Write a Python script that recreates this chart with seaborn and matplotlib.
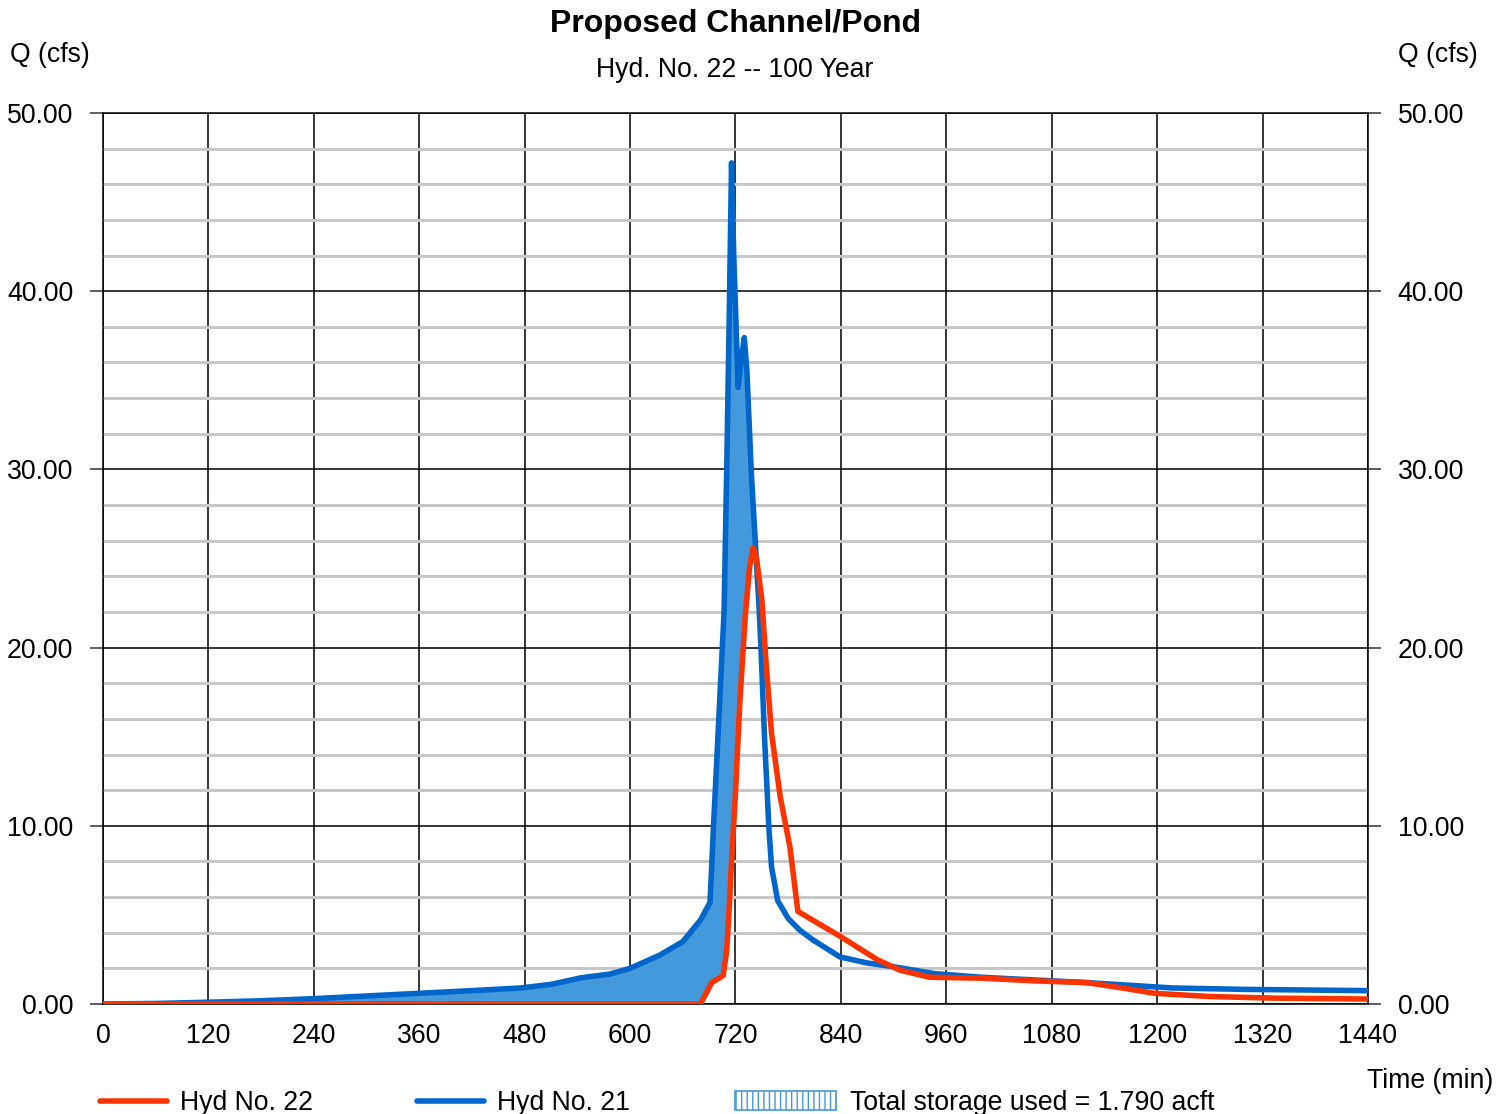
import numpy as np
import pandas as pd
import seaborn as sns
import matplotlib.pyplot as plt
from matplotlib.lines import Line2D
from matplotlib.patches import Patch

# Hyd No. 21 (inflow)
inflow_t = [0, 60, 120, 180, 240, 300, 360, 420, 475, 510, 543, 577, 600, 634, 660, 680,
            691, 695, 700, 707, 710, 713, 715.5, 718, 723, 726, 730, 733, 738, 747, 749, 753,
            758, 761, 768, 780, 793, 808, 839, 870, 899, 947, 1000, 1060, 1120, 1217, 1300, 1440]
inflow_q = [0.0, 0.03, 0.1, 0.18, 0.3, 0.45, 0.6, 0.75, 0.9, 1.1, 1.46, 1.68, 2.0, 2.75, 3.5, 4.7,
            5.7, 10.0, 15.0, 22.0, 30.0, 39.0, 47.2, 42.0, 34.6, 36.0, 37.4, 35.5, 29.8, 22.1, 20.0, 15.0,
            9.9, 7.7, 5.8, 4.8, 4.15, 3.6, 2.64, 2.3, 2.1, 1.7, 1.5, 1.35, 1.2, 0.9, 0.82, 0.75]

# Hyd No. 22 (outflow)
outflow_t = [0, 680, 693, 706, 710, 713, 716, 719.5, 725, 731, 736, 740, 744, 750, 755, 761, 771, 782,
             791, 839, 881, 907, 941, 1000, 1060, 1120, 1160, 1197, 1260, 1333, 1440]
outflow_q = [0.0, 0.0, 1.2, 1.6, 3.0, 5.5, 8.5, 11.4, 17.0, 21.7, 24.5, 25.6, 25.0, 22.7, 19.0, 15.2, 11.6, 8.8,
             5.2, 3.8, 2.5, 1.9, 1.5, 1.45, 1.3, 1.2, 0.9, 0.6, 0.42, 0.33, 0.28]

x_ticks = list(range(0, 1441, 120))
y_ticks = [0, 10, 20, 30, 40, 50]

RED = '#FF3300'
BLUE = '#0066CC'
FILL = '#4499DD'
FS = 19.2

sns.set_theme(style='white')
plt.rcParams['font.family'] = ['Liberation Sans', 'DejaVu Sans']
plt.rcParams['text.color'] = 'black'

fig = plt.figure(figsize=(15.1, 11.14), dpi=100)
ax = fig.add_axes([103 / 1510, 1 - 1004 / 1114, 1265 / 1510, 891 / 1114])

inflow = pd.DataFrame({'t': inflow_t, 'q': inflow_q})
outflow = pd.DataFrame({'t': outflow_t, 'q': outflow_q})

# storage area between inflow and outflow (rising limb)
tt = np.union1d(inflow_t, outflow_t)
qi = np.interp(tt, inflow_t, inflow_q)
qo = np.interp(tt, outflow_t, outflow_q)
ax.fill_between(tt, qo, qi, where=(qi >= qo) & (tt <= 745), color=FILL, lw=0, zorder=2)

sns.lineplot(data=inflow, x='t', y='q', ax=ax, color=BLUE, lw=4, zorder=4, sort=False,
             solid_joinstyle='round', solid_capstyle='round')
sns.lineplot(data=outflow, x='t', y='q', ax=ax, color=RED, lw=4, zorder=5, sort=False,
             solid_joinstyle='round', solid_capstyle='round')

ax.set_xlim(0, 1440)
ax.set_ylim(0, 50)
ax.set_xticks(x_ticks)
ax.set_xticklabels([str(v) for v in x_ticks], fontsize=FS)
ax.set_yticks(y_ticks)
ax.set_yticklabels([f'{v:.2f}' for v in y_ticks], fontsize=FS)
ax.set_yticks(np.arange(0, 51, 2), minor=True)
ax.grid(which='minor', axis='y', color='#c8c8c8', lw=2.2, zorder=0)
ax.grid(which='major', axis='both', color='black', lw=1.1, zorder=1)
ax.set_axisbelow(True)
ax.tick_params(axis='y', which='major', direction='out', length=9.4, width=1.1, color='#333333',
               pad=12, left=True, labelcolor='black')
ax.tick_params(axis='y', which='minor', length=0)
ax.tick_params(axis='x', length=0, pad=14, labelcolor='black')
ax.set_xlabel('')
ax.set_ylabel('')
for s in ['left', 'bottom', 'top', 'right']:
    ax.spines[s].set_color('black')
    ax.spines[s].set_linewidth(1.1)

ax2 = ax.twinx()
ax2.set_ylim(0, 50)
ax2.set_yticks(y_ticks)
ax2.set_yticklabels([f'{v:.2f}' for v in y_ticks], fontsize=FS)
ax2.tick_params(axis='y', direction='out', length=9.4, width=1.1, color='#333333', pad=12,
                right=True, labelcolor='black')
ax2.grid(False)
for s in ax2.spines.values():
    s.set_visible(False)

fig.text(735 / 1510, 1 - 24 / 1114, 'Proposed Channel/Pond', ha='center', va='center',
         fontsize=23, fontweight='bold')
fig.text(735 / 1510, 1 - 70 / 1114, 'Hyd. No. 22 -- 100 Year', ha='center', va='center', fontsize=FS)
fig.text(10 / 1510, 1 - 55 / 1114, 'Q (cfs)', ha='left', va='center', fontsize=FS)
fig.text(1478 / 1510, 1 - 55 / 1114, 'Q (cfs)', ha='right', va='center', fontsize=FS)
fig.text(1493 / 1510, 1 - 1081 / 1114, 'Time (min)', ha='right', va='center', fontsize=FS)

line_handles = [Line2D([], [], color=RED, lw=4), Line2D([], [], color=BLUE, lw=4)]
leg1 = fig.legend(line_handles, ['Hyd No. 22', 'Hyd No. 21'], loc='center left',
                  bbox_to_anchor=(100 / 1510, 11 / 1114), ncol=2, frameon=False, fontsize=FS,
                  handlelength=2.5, handletextpad=0.5, columnspacing=3.9, borderpad=0, borderaxespad=0)
patch = Patch(facecolor='white', edgecolor=FILL, hatch='|||', lw=1.2)
leg2 = fig.legend([patch], ['Total storage used = 1.790 acft'], loc='center left',
                  bbox_to_anchor=(735 / 1510, 11 / 1114), frameon=False, fontsize=FS,
                  handlelength=3.8, handleheight=0.75, handletextpad=0.5, borderpad=0, borderaxespad=0)

fig.savefig('out.png', dpi=100)
